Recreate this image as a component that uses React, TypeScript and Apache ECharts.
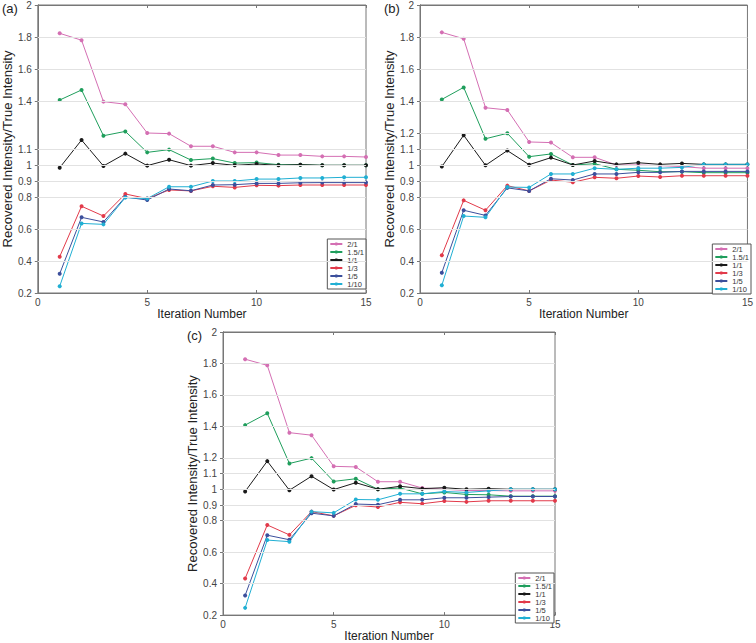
import React, { useEffect, useRef } from "react";
import * as echarts from "echarts";

const iterations = [1, 2, 3, 4, 5, 6, 7, 8, 9, 10, 11, 12, 13, 14, 15];
const seriesNames = ["2/1", "1.5/1", "1/1", "1/3", "1/5", "1/10"];
const seriesColors = ["#d46fb3", "#1f9e5c", "#1a1a1a", "#e23a4a", "#3c4f9c", "#20afd3"];
const panelLabels = ["(a)", "(b)", "(c)"];

const yTicksA = [0.2, 0.4, 0.6, 0.8, 0.9, 1, 1.1, 1.4, 1.6, 1.8, 2];
const yTicksBC = [0.2, 0.4, 0.6, 0.8, 0.9, 1, 1.1, 1.2, 1.4, 1.6, 1.8, 2];

// Panel (a)
const a_2_1 = [1.823, 1.78, 1.396, 1.38, 1.2, 1.196, 1.117, 1.117, 1.079, 1.079, 1.062, 1.062, 1.054, 1.054, 1.05];
const a_15_1 = [1.406, 1.469, 1.183, 1.21, 1.079, 1.096, 1.031, 1.04, 1.012, 1.015, 1.002, 1.002, 0.998, 0.998, 0.998];
const a_1_1 = [0.983, 1.156, 0.994, 1.071, 0.996, 1.033, 0.996, 1.012, 0.998, 1.006, 0.998, 1.002, 0.998, 0.998, 0.998];
const a_1_3 = [0.427, 0.742, 0.681, 0.819, 0.79, 0.844, 0.838, 0.867, 0.86, 0.873, 0.871, 0.875, 0.875, 0.875, 0.875];
const a_1_5 = [0.32, 0.673, 0.644, 0.8, 0.781, 0.85, 0.839, 0.875, 0.877, 0.885, 0.885, 0.889, 0.89, 0.89, 0.89];
const a_1_10 = [0.242, 0.635, 0.629, 0.796, 0.79, 0.864, 0.864, 0.9, 0.9, 0.912, 0.912, 0.919, 0.919, 0.923, 0.923];

// Panel (b)
const b_2_1 = [1.829, 1.789, 1.358, 1.344, 1.144, 1.14, 1.048, 1.048, 1.0, 1.0, 0.996, 0.99, 0.98, 0.98, 0.98];
const b_15_1 = [1.41, 1.485, 1.164, 1.198, 1.052, 1.069, 1.0, 1.008, 0.973, 0.967, 0.958, 0.958, 0.952, 0.952, 0.952];
const b_1_1 = [0.99, 1.186, 0.998, 1.09, 1.002, 1.046, 1.0, 1.025, 1.004, 1.014, 1.004, 1.01, 1.004, 1.004, 1.004];
const b_1_3 = [0.436, 0.779, 0.717, 0.871, 0.838, 0.906, 0.892, 0.923, 0.917, 0.931, 0.925, 0.933, 0.933, 0.933, 0.933];
const b_1_5 = [0.327, 0.717, 0.685, 0.857, 0.838, 0.914, 0.906, 0.944, 0.944, 0.954, 0.954, 0.96, 0.96, 0.96, 0.96];
const b_1_10 = [0.248, 0.681, 0.673, 0.862, 0.86, 0.944, 0.944, 0.98, 0.973, 0.98, 0.98, 0.985, 1.004, 1.004, 1.004];

// Panel (c)
const c_2_1 = [1.827, 1.788, 1.36, 1.344, 1.146, 1.142, 1.048, 1.048, 1.008, 1.0, 0.992, 0.992, 0.99, 0.99, 0.99];
const c_15_1 = [1.408, 1.483, 1.164, 1.198, 1.05, 1.067, 1.0, 1.008, 0.971, 0.98, 0.967, 0.965, 0.956, 0.956, 0.956];
const c_1_1 = [0.986, 1.179, 0.994, 1.083, 0.998, 1.042, 1.0, 1.019, 1.004, 1.01, 1.0, 1.004, 1.0, 1.0, 1.0];
const c_1_3 = [0.433, 0.773, 0.71, 0.858, 0.831, 0.898, 0.887, 0.917, 0.908, 0.925, 0.92, 0.927, 0.927, 0.927, 0.927];
const c_1_5 = [0.325, 0.708, 0.679, 0.848, 0.831, 0.906, 0.902, 0.933, 0.933, 0.946, 0.946, 0.95, 0.954, 0.954, 0.954];
const c_1_10 = [0.246, 0.677, 0.667, 0.858, 0.85, 0.935, 0.933, 0.971, 0.971, 0.986, 0.98, 0.99, 1.0, 1.0, 1.0];

const panelData = [
  [a_2_1, a_15_1, a_1_1, a_1_3, a_1_5, a_1_10],
  [b_2_1, b_15_1, b_1_1, b_1_3, b_1_5, b_1_10],
  [c_2_1, c_15_1, c_1_1, c_1_3, c_1_5, c_1_10],
];
const panelTicks = [yTicksA, yTicksBC, yTicksBC];

const grids = [
  { left: 34, top: 5, width: 332, height: 288 },
  { left: 420, top: 5, width: 333, height: 288 },
  { left: 223, top: 332, width: 332, height: 288 },
];
const legendPos = [
  { right: 390, top: 239 },
  { right: 5, top: 244 },
  { right: 202, top: 573 },
];
const labelPos = [
  { left: 2, top: 2 },
  { left: 384, top: 2 },
  { left: 187, top: 329 },
];

const FONT = "'Liberation Sans', Arial, Helvetica, sans-serif";
const AXIS_COLOR = "#777";

export default function App() {
  const ref = useRef<HTMLDivElement>(null);

  useEffect(() => {
    if (!ref.current) return;
    const chart = echarts.init(ref.current, undefined, { renderer: "svg" });

    const xAxes: any[] = [];
    const yAxes: any[] = [];
    const series: any[] = [];

    grids.forEach((g, gi) => {
      const ticks = panelTicks[gi];
      xAxes.push({
        type: "value",
        gridIndex: gi,
        min: 0,
        max: 15,
        interval: 5,
        name: "Iteration Number",
        nameLocation: "middle",
        nameGap: 13,
        nameTextStyle: { fontSize: 12, color: "#222", fontFamily: FONT },
        axisLine: { show: true, lineStyle: { color: AXIS_COLOR } },
        axisTick: { show: true, inside: true, length: 3, lineStyle: { color: AXIS_COLOR } },
        axisLabel: { fontSize: 10, color: "#444", fontFamily: FONT, margin: 4 },
        splitLine: { show: false },
      });
      yAxes.push({
        type: "value",
        gridIndex: gi,
        min: 0.2,
        max: 2,
        name: "Recovered Intensity/True Intensity",
        nameLocation: "middle",
        nameGap: 21,
        nameTextStyle: { fontSize: 13, color: "#222", fontFamily: FONT },
        axisLine: { show: true, lineStyle: { color: AXIS_COLOR } },
        axisTick: { show: true, inside: true, length: 3, customValues: ticks, lineStyle: { color: AXIS_COLOR } },
        axisLabel: { fontSize: 10, color: "#444", fontFamily: FONT, margin: 6, customValues: ticks },
        splitLine: { show: false },
      });
    });
    grids.forEach((g, gi) => {
      const ticks = panelTicks[gi];
      xAxes.push({
        type: "value",
        gridIndex: gi,
        position: "top",
        min: 0,
        max: 15,
        interval: 5,
        axisLine: { show: true, lineStyle: { color: AXIS_COLOR } },
        axisTick: { show: true, inside: true, length: 3, lineStyle: { color: AXIS_COLOR } },
        axisLabel: { show: false },
        splitLine: { show: false },
      });
      yAxes.push({
        type: "value",
        gridIndex: gi,
        position: "right",
        min: 0.2,
        max: 2,
        axisLine: { show: true, lineStyle: { color: AXIS_COLOR } },
        axisTick: { show: true, inside: true, length: 3, customValues: ticks, lineStyle: { color: AXIS_COLOR } },
        axisLabel: { show: false, customValues: ticks },
        splitLine: { show: false },
      });
    });

    grids.forEach((g, gi) => {
      const ticks = panelTicks[gi];
      series.push({
        type: "line",
        xAxisIndex: gi,
        yAxisIndex: gi,
        data: [],
        silent: true,
        z: 1,
        markLine: {
          silent: true,
          symbol: "none",
          label: { show: false },
          lineStyle: { color: "#e2e2e2", type: "solid", width: 1 },
          data: ticks.filter((v) => v > 0.2 && v < 2).map((v) => ({ yAxis: v })),
        },
      });
      seriesNames.forEach((name, si) => {
        series.push({
          type: "line",
          name,
          xAxisIndex: gi,
          yAxisIndex: gi,
          z: 3,
          data: iterations.map((it, k) => [it, panelData[gi][si][k]]),
          symbol: "circle",
          symbolSize: 4,
          showSymbol: true,
          showAllSymbol: true,
          color: seriesColors[si],
          lineStyle: { width: 1, color: seriesColors[si] },
          itemStyle: { color: seriesColors[si], borderColor: seriesColors[si], borderWidth: 0 },
        });
      });
    });

    const option: any = {
      animation: false,
      backgroundColor: "#fff",
      textStyle: { fontFamily: FONT },
      title: panelLabels.map((t, i) => ({
        text: t,
        left: labelPos[i].left,
        top: labelPos[i].top,
        padding: 0,
        textStyle: { fontSize: 13, fontWeight: "normal", color: "#222", fontFamily: FONT },
      })),
      grid: grids.map((g) => ({
        ...g,
        show: true,
        borderColor: AXIS_COLOR,
        borderWidth: 1,
        backgroundColor: "transparent",
        containLabel: false,
      })),
      legend: legendPos.map((p) => ({
        data: seriesNames.map((n) => ({ name: n, itemStyle: { borderWidth: 0 } })),
        orient: "vertical",
        right: p.right,
        top: p.top,
        itemWidth: 12,
        itemHeight: 4,
        itemGap: 0,
        padding: [1, 2, 1, 2],
        borderColor: "#555",
        borderWidth: 1,
        borderRadius: 0,
        backgroundColor: "#fff",
        selectedMode: false,
        textStyle: { fontSize: 7.5, lineHeight: 7, color: "#333", fontFamily: FONT, padding: 0 },
      })),
      xAxis: xAxes,
      yAxis: yAxes,
      series,
    };

    chart.setOption(option);
    return () => {
      chart.dispose();
    };
  }, []);

  return (
    <div
      ref={ref}
      style={{ position: "fixed", left: 0, top: 0, width: 756, height: 643, background: "#fff" }}
    />
  );
}
